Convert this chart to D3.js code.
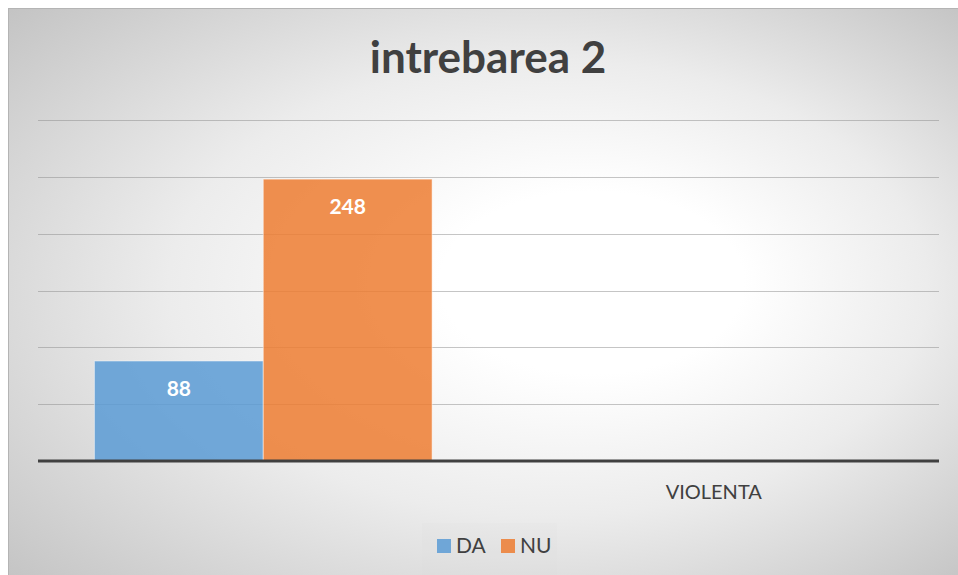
<!DOCTYPE html>
<html>
<head>
<meta charset="utf-8">
<script src="https://cdn.jsdelivr.net/npm/d3@7"></script>
<style>
  body { margin:0; background:#ffffff; }
  svg { display:block; }
</style>
</head>
<body>
<svg id="chart"></svg>
<script>
var categories = ["", "VIOLENTA"];
var seriesNames = ["DA", "NU"];
var valuesDA = [88, null];
var valuesNU = [248, null];
var yTicks = [50, 100, 150, 200, 250, 300];
var titleText = "intrebarea 2";

var colors = {DA:"#5b9bd5", NU:"#ed7d31"};

var drawChart = function(w,h,c)
{
  var screen = {width:w, height:h};

  var svg = d3.select(c)
              .attr("width",screen.width)
              .attr("height",screen.height);

  var margins = {top:120, bottom:114, left:38, right:19};

  var width = screen.width - margins.left - margins.right;
  var height = screen.height - margins.top - margins.bottom;

  // background gradient, light spot a bit right of the middle
  var defs = svg.append("defs");
  var grad = defs.append("radialGradient")
                 .attr("id","bg")
                 .attr("cx",0.5).attr("cy",0.5).attr("r",0.72)
                 .attr("fx",0.64).attr("fy",0.47);
  grad.append("stop").attr("offset","0").attr("stop-color","#ffffff");
  grad.append("stop").attr("offset","0.22").attr("stop-color","#ffffff");
  grad.append("stop").attr("offset","0.55").attr("stop-color","#ececec");
  grad.append("stop").attr("offset","1").attr("stop-color","#c2c2c2");

  svg.append("rect")
     .attr("x",8.5)
     .attr("y",8.5)
     .attr("width",screen.width)
     .attr("height",screen.height)
     .attr("fill","url(#bg)")
     .attr("stroke","#b4b4b4");

  svg.append("text")
     .attr("x",488)
     .attr("y",73)
     .attr("text-anchor","middle")
     .attr("font-family","Lato, sans-serif")
     .attr("font-weight","bold")
     .attr("font-size","44px")
     .attr("fill","#404040")
     .text(titleText);

  //scales
  var x0 = d3.scaleBand()
             .domain(categories)
             .range([0,width])
             .paddingInner(0)
             .paddingOuter(0);
  var x1 = d3.scaleBand()
             .domain(seriesNames)
             .range([0,x0.bandwidth()])
             .paddingInner(0)
             .paddingOuter(0.334);
  var yScale = d3.scaleLinear()
                 .domain([0,300])
                 .range([height,0]);

  var plot = svg.append("g")
                .attr("transform","translate("+margins.left+","+margins.top+")");

  plot.append("g").classed("grid",true)
      .selectAll("line")
      .data(yTicks)
      .enter()
      .append("line")
      .attr("x1",0)
      .attr("x2",width)
      .attr("y1",function(d){return Math.round(yScale(d))+0.5;})
      .attr("y2",function(d){return Math.round(yScale(d))+0.5;})
      .attr("stroke","#8c8c8c")
      .attr("stroke-opacity",0.5)
      .attr("stroke-width",1);

  var rows = [];
  categories.forEach(function(cat,i){
    rows.push({cat:cat, name:"DA", value:valuesDA[i]});
    rows.push({cat:cat, name:"NU", value:valuesNU[i]});
  });
  var bars = rows.filter(function(d){return d.value != null;});

  plot.append("g").classed("bars",true)
      .selectAll("rect")
      .data(bars)
      .enter()
      .append("rect")
      .attr("x",function(d){return x0(d.cat)+x1(d.name);})
      .attr("y",function(d){return yScale(d.value);})
      .attr("width",x1.bandwidth())
      .attr("height",function(d){return height-yScale(d.value);})
      .attr("fill",function(d){return colors[d.name];})
      .attr("fill-opacity",0.85)
      .attr("stroke","#ffffff")
      .attr("stroke-opacity",0.5)
      .attr("stroke-width",1);

  plot.append("g").classed("labels",true)
      .selectAll("text")
      .data(bars)
      .enter()
      .append("text")
      .attr("x",function(d){return x0(d.cat)+x1(d.name)+x1.bandwidth()/2;})
      .attr("y",function(d){return yScale(d.value)+35;})
      .attr("text-anchor","middle")
      .attr("font-family","Lato, sans-serif")
      .attr("font-weight","bold")
      .attr("font-size","21px")
      .attr("fill","#ffffff")
      .text(function(d){return d.value;});

  // baseline
  plot.append("line")
      .attr("x1",0)
      .attr("x2",width)
      .attr("y1",yScale(0))
      .attr("y2",yScale(0))
      .attr("stroke","#404040")
      .attr("stroke-width",3);

  plot.append("g").classed("xLabels",true)
      .selectAll("text")
      .data(categories)
      .enter()
      .append("text")
      .attr("x",function(d){return x0(d)+x0.bandwidth()/2;})
      .attr("y",height+38)
      .attr("text-anchor","middle")
      .attr("font-family","Lato, sans-serif")
      .attr("font-size","20px")
      .attr("fill","#404040")
      .text(function(d){return d;});

  // legend
  svg.append("rect")
     .attr("x",422)
     .attr("y",523)
     .attr("width",135)
     .attr("height",52)
     .attr("fill","#d9d9d9")
     .attr("fill-opacity",0.07);

  var legend = svg.append("g")
                  .classed("legend",true)
                  .attr("transform","translate(437,539)");

  var legendX = [0, 64];
  var items = legend.selectAll("g")
                    .data(seriesNames)
                    .enter()
                    .append("g")
                    .attr("transform",function(d,i){return "translate("+legendX[i]+",0)";});
  items.append("rect")
       .attr("width",14)
       .attr("height",14)
       .attr("fill",function(d){return colors[d];})
       .attr("fill-opacity",0.85);
  items.append("text")
       .attr("x",19)
       .attr("y",14)
       .attr("font-family","Lato, sans-serif")
       .attr("font-size","21px")
       .attr("fill","#404040")
       .text(function(d){return d;});
}

drawChart(958,575,"#chart");
</script>
</body>
</html>
